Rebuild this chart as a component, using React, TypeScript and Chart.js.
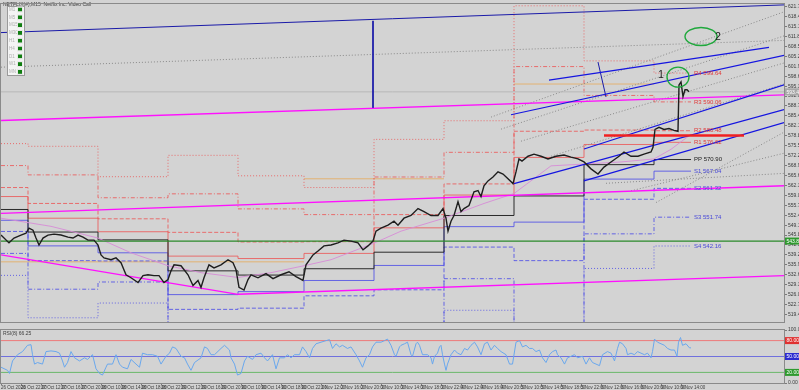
import React, { useEffect, useRef } from "react";
import { Chart, registerables } from "chart.js";
Chart.register(...registerables);

const FONT = "'Liberation Sans', 'DejaVu Sans', sans-serif";

// time axis: trading hours since start, labels every 4 hours
const timeTicks = [0, 4, 8, 12, 16, 20, 24, 28, 32, 36, 40, 44, 48, 52, 56, 60, 64, 68, 72, 76, 80, 84, 88, 92, 96, 100, 104, 108, 112, 116, 120, 124, 128, 132, 136];
const timeLabels = ["26 Oct 2020", "26 Oct 22:00", "27 Oct 12:00", "27 Oct 16:00", "27 Oct 20:00", "28 Oct 10:00", "28 Oct 14:00", "28 Oct 18:00", "28 Oct 22:00", "29 Oct 12:00", "29 Oct 16:00", "29 Oct 20:00", "30 Oct 10:00", "30 Oct 14:00", "30 Oct 18:00", "30 Oct 22:00", "2 Nov 12:00", "2 Nov 16:00", "2 Nov 20:00", "3 Nov 10:00", "3 Nov 14:00", "3 Nov 18:00", "3 Nov 22:00", "4 Nov 12:00", "4 Nov 16:00", "4 Nov 20:00", "5 Nov 10:00", "5 Nov 14:00", "5 Nov 18:00", "5 Nov 22:00", "6 Nov 12:00", "6 Nov 16:00", "6 Nov 20:00", "9 Nov 10:00", "9 Nov 14:00"];

const priceTicks = [621.7, 618.4, 615.1, 611.8, 608.5, 605.2, 601.9, 598.6, 595.3, 592.0, 588.7, 585.4, 582.1, 578.8, 575.5, 572.2, 568.9, 565.6, 562.3, 559.0, 555.7, 552.4, 549.1, 545.8, 542.5, 539.2, 535.9, 532.6, 529.3, 526.0, 522.7, 519.4];

// price path
const priceT = [0, 1.6, 2.6, 4.0, 5.0, 5.6, 6.4, 7.0, 7.6, 8.4, 9.4, 10.6, 12.0, 13.4, 14.4, 15.4, 16.4, 17.4, 18.6, 19.4, 20.0, 20.6, 22.0, 23.0, 24.0, 25.0, 26.0, 27.4, 28.4, 29.4, 30.6, 31.6, 32.6, 33.4, 34.0, 34.6, 36.0, 37.4, 38.4, 39.4, 40.0, 40.6, 41.6, 42.6, 44.0, 45.4, 46.4, 47.0, 47.6, 48.6, 49.4, 50.0, 51.4, 53.0, 54.4, 56.0, 57.6, 59.0, 60.4, 61.0, 62.4, 63.4, 64.6, 66.0, 67.4, 68.6, 70.0, 71.4, 72.4, 73.4, 74.4, 75.0, 76.0, 77.4, 78.6, 79.4, 80.6, 82.0, 83.4, 84.6, 86.0, 87.4, 88.4, 89.0, 89.4, 90.0, 90.6, 91.4, 92.0, 92.6, 93.6, 94.6, 95.4, 96.0, 96.6, 97.4, 98.4, 99.4, 100.4, 101.4, 102.4, 103.0, 103.6, 104.2, 105.4, 106.6, 108.0, 109.4, 111.0, 112.6, 114.0, 115.4, 116.6, 118.0, 119.4, 120.6, 122.0, 123.6, 124.6, 126.0, 127.4, 128.6, 130.0, 130.4, 130.8, 131.6, 132.6, 133.6, 134.6, 135.4, 135.6, 136.0, 136.4, 136.8, 137.2, 137.6];
const priceP = [545.8, 543.2, 544.8, 545.8, 546.4, 548.1, 547.4, 544.8, 542.5, 544.8, 545.8, 546.1, 545.8, 545.1, 544.8, 545.8, 545.1, 544.1, 544.1, 542.5, 539.2, 538.2, 537.6, 538.2, 536.6, 532.6, 531.6, 530.0, 532.3, 532.6, 532.3, 532.3, 530.0, 531.0, 533.9, 535.9, 535.6, 532.6, 529.0, 530.7, 528.4, 531.6, 535.9, 534.9, 535.9, 537.6, 536.6, 534.3, 528.4, 527.5, 531.0, 532.6, 531.6, 533.0, 531.3, 532.6, 533.6, 532.0, 530.7, 535.9, 539.2, 540.5, 542.2, 542.5, 543.2, 544.1, 543.8, 543.2, 540.9, 542.2, 543.8, 547.1, 548.1, 549.1, 550.4, 549.1, 551.4, 552.3, 554.6, 553.6, 552.3, 552.3, 554.6, 551.4, 547.1, 550.4, 552.3, 556.9, 553.6, 554.6, 555.6, 560.2, 560.6, 558.6, 562.2, 563.8, 565.1, 566.8, 566.1, 564.5, 562.9, 566.8, 571.1, 570.4, 572.0, 572.7, 572.0, 571.1, 572.0, 572.4, 571.7, 571.1, 570.1, 567.8, 566.1, 568.4, 570.1, 572.0, 573.4, 572.0, 572.0, 572.7, 573.4, 575.0, 580.9, 581.6, 580.9, 581.2, 580.6, 580.3, 595.7, 596.7, 591.8, 594.1, 594.1, 593.4];

// moving average
const maT = [0, 10, 19.4, 26, 33.4, 40, 47.4, 54, 60.6, 66, 74.6, 80, 88.6, 96.6, 102.6, 110, 116.6, 124, 130.6, 134, 138];
const maP = [551.4, 548.7, 544.8, 539.9, 535.6, 533.3, 531.7, 533.3, 535.6, 537.6, 543.1, 547.1, 551.4, 556.3, 559.6, 568.8, 569.4, 570.1, 571.1, 574.3, 579.3];

// daily pivots
const dayStart = [0, 5.4, 19.4, 33.4, 47.4, 60.6, 74.6, 88.6, 102.6, 116.6, 130.6];
const lastBarT = 138;
const pivPP = [554.3, 546.8, 544.2, 533.9, 532.5, 534.6, 540.1, 552.3, 558.8, 569.2, 570.90];
const pivR1 = [558.6, 551.4, 546.9, 538.8, 538.0, 539.7, 548.2, 559.1, 571.6, 575.9, 576.62];
const pivR2 = [561.6, 556.3, 551.2, 546.7, 543.5, 543.6, 552.6, 562.8, 580.3, 580.7, 580.48];
const pivR3 = [568.9, 565.8, 558.2, 559.5, 554.5, 552.6, 565.1, 573.3, 601.8, 592.2, 590.06];
const pivR4 = [576.2, 575.3, 565.2, 572.3, 565.5, 561.6, 577.6, 583.8, 622.0, 603.7, 599.64];
const pivS1 = [550.7, 542.2, 539.9, 526.0, 527.0, 530.7, 535.7, 548.6, 550.1, 564.4, 567.04];
const pivS2 = [547.0, 537.3, 537.2, 521.1, 521.5, 525.6, 527.6, 541.8, 537.3, 557.7, 561.32];
const pivS3 = [539.7, 527.8, 530.2, 508.3, 510.5, 516.6, 515.1, 531.3, 515.8, 546.2, 551.74];
const pivS4 = [532.4, 518.3, 523.2, 495.5, 499.5, 507.6, 502.6, 520.8, 494.3, 534.7, 542.16];
const pivNames = ["R4", "R3", "R2", "R1", "PP", "S1", "S2", "S3", "S4"];

// trend lines [t1, p1, t2, p2]
const magentaLines = [[0, 583.9, 156.6, 592.4], [0, 553.0, 156.6, 562.2], [0, 539.2, 47.4, 526.1], [47.4, 526.1, 156.6, 532.3]];
const darkBlueLines = [[0, 613.1, 156.6, 622.3], [74.4, 617.0, 74.4, 588.1], [119.4, 603.3, 121.0, 591.7]];
const channelLines = [[109.6, 597.3, 153.6, 608.2], [102, 585.8, 156.6, 605.5], [116.6, 574.4, 156.6, 595.7], [102.6, 562.9, 156.6, 587.5], [116.6, 563.8, 156.6, 583.2]];
const dottedLines = [[0, 601.6, 156.6, 610.5], [98, 585.0, 156.6, 620.0], [100, 581.0, 156.6, 612.0], [104, 577.0, 156.6, 603.0], [110, 572.0, 156.6, 596.0], [121, 563.0, 156.6, 566.3], [126, 560.5, 156.6, 573.0], [131, 556.6, 156.6, 580.0]];
const redThick = [120.6, 578.9, 148.6, 578.9];
const orangeLines = [[0, 536.9, 60.6, 536.9], [60.6, 564.5, 88.6, 564.5], [102.6, 596.0, 130.6, 596.0]];
const greenLevel = 543.8;
const bidLevel = 593.4;

// RSI
const rsiT = [0, 1.3, 1.7, 2.3, 3.3, 4.3, 5.3, 6.0, 6.3, 6.7, 7.3, 8.3, 9.0, 10.0, 11.0, 11.7, 12.3, 12.7, 13.3, 14.0, 14.7, 15.7, 16.7, 17.3, 18.3, 19.0, 19.7, 20.3, 21.0, 21.3, 22.3, 23.0, 23.7, 24.3, 25.3, 26.0, 27.0, 27.7, 28.3, 29.3, 30.3, 31.3, 32.0, 33.0, 33.7, 34.3, 35.0, 36.0, 36.7, 37.3, 38.0, 38.7, 40.0, 40.7, 41.3, 42.0, 42.7, 44.0, 44.7, 45.7, 46.0, 46.7, 47.3, 48.0, 48.7, 49.3, 50.3, 51.0, 52.0, 52.7, 53.3, 54.3, 55.0, 55.7, 56.7, 57.3, 58.0, 58.7, 59.7, 60.3, 61.0, 61.7, 62.3, 63.0, 64.0, 65.0, 65.7, 66.3, 67.0, 67.7, 68.3, 69.3, 70.0, 71.0, 71.7, 72.3, 73.0, 73.7, 74.3, 75.0, 76.0, 76.7, 77.3, 78.0, 78.7, 79.0, 79.7, 80.0, 80.7, 81.3, 82.0, 82.3, 83.0, 83.3, 83.7, 84.3, 85.3, 86.0, 86.3, 86.7, 87.3, 87.7, 88.0, 88.3, 88.7, 89.0, 89.3, 90.0, 90.7, 91.3, 92.0, 92.7, 93.3, 94.0, 94.7, 95.3, 96.0, 96.7, 97.3, 98.0, 98.7, 99.3, 100.0, 101.0, 101.7, 102.3, 103.0, 103.7, 104.3, 105.0, 105.7, 106.3, 107.0, 107.7, 108.3, 109.0, 109.7, 110.3, 111.0, 111.3, 112.0, 112.7, 113.3, 114.0, 114.7, 115.3, 116.3, 117.0, 117.7, 118.3, 119.0, 119.7, 120.3, 121.3, 122.0, 122.7, 123.3, 123.7, 124.3, 125.0, 125.3, 126.0, 126.7, 127.3, 128.0, 128.7, 129.3, 130.0, 130.3, 130.7, 131.3, 132.0, 132.7, 133.3, 134.0, 134.7, 135.2, 135.5, 135.9, 136.3, 137.0, 137.7, 138.0];
const rsiV = [29.8, 23.9, 18.0, 41.6, 53.4, 59.3, 71.1, 72.3, 53.4, 35.7, 38.6, 35.7, 59.3, 60.5, 59.3, 56.3, 41.6, 29.8, 38.6, 59.3, 47.5, 41.6, 47.5, 44.5, 53.4, 26.8, 18.0, 15.0, 29.8, 35.7, 35.7, 53.4, 35.7, 29.8, 26.8, 44.5, 35.7, 29.8, 56.3, 53.4, 53.4, 50.4, 35.7, 50.4, 56.3, 68.1, 65.2, 50.4, 47.5, 35.7, 23.9, 38.6, 47.5, 68.1, 65.2, 53.4, 53.4, 65.2, 71.1, 62.2, 47.5, 35.7, 15.0, 18.0, 41.6, 50.4, 44.5, 53.4, 56.3, 47.5, 41.6, 53.4, 26.8, 47.5, 47.5, 53.4, 47.5, 53.4, 53.4, 68.1, 59.3, 47.5, 65.2, 74.0, 77.0, 79.9, 81.7, 65.2, 74.0, 68.1, 71.1, 65.2, 68.1, 53.4, 41.6, 29.8, 47.5, 53.4, 68.1, 77.0, 77.0, 79.9, 82.9, 71.1, 53.4, 50.4, 68.1, 71.1, 74.0, 77.0, 53.4, 50.4, 74.0, 77.0, 71.1, 53.4, 53.4, 47.5, 35.7, 50.4, 56.3, 68.1, 71.1, 53.4, 35.7, 23.9, 35.7, 53.4, 62.2, 56.3, 53.4, 65.2, 62.2, 71.1, 77.0, 68.1, 53.4, 74.0, 77.0, 62.2, 71.1, 65.2, 59.3, 53.4, 35.7, 35.7, 77.0, 79.9, 68.1, 71.1, 65.2, 65.2, 59.3, 62.2, 47.5, 38.6, 53.4, 59.3, 62.2, 53.4, 47.5, 35.7, 47.5, 50.4, 53.4, 47.5, 50.4, 35.7, 47.5, 38.6, 35.7, 32.7, 53.4, 59.3, 56.3, 41.6, 65.2, 77.0, 74.0, 65.2, 53.4, 56.3, 53.4, 59.3, 56.3, 53.4, 56.3, 47.5, 59.3, 82.9, 77.0, 74.0, 71.1, 65.2, 62.2, 62.2, 50.4, 77.0, 85.8, 71.1, 74.0, 66.3, 66.3];
const rsiLevels = [80, 50, 20];
const rsiTicks = [100, 0];

const BG = "#d3d3d3";
const RED = "rgba(235,90,90,0.85)";
const BLUE = "rgba(80,80,230,0.85)";

const pts = (ts: number[], vs: number[]) => ts.map((t, i) => ({ x: t, y: vs[i] }));
const seg = (s: number[]) => [{ x: s[0], y: s[1] }, { x: s[2], y: s[3] }];
const steps = (lv: number[]) => lv.map((v, i) => ({ x: dayStart[i], y: v })).concat([{ x: lastBarT, y: lv[lv.length - 1] }]);

const bgPlugin = {
  id: "bg",
  beforeDraw(c: any) {
    const ctx = c.ctx;
    ctx.save();
    ctx.fillStyle = BG;
    ctx.fillRect(0, 0, c.width, c.height);
    ctx.restore();
  },
  afterDraw(c: any) {
    const { ctx, chartArea: a } = c;
    ctx.save();
    ctx.strokeStyle = "#8a8a8a";
    ctx.lineWidth = 1;
    ctx.strokeRect(a.left - 0.5, a.top - 0.5, a.right - a.left + 1, a.bottom - a.top + 1);
    ctx.restore();
  },
};

const boxLabel = (ctx: any, x: number, y: number, text: string, bg: string, fg: string) => {
  ctx.font = `5px ${FONT}`;
  const w = ctx.measureText(text).width + 3;
  ctx.fillStyle = bg;
  ctx.fillRect(x, y - 3.5, w, 7);
  ctx.fillStyle = fg;
  ctx.textAlign = "left";
  ctx.textBaseline = "middle";
  ctx.fillText(text, x + 1.5, y + 0.3);
};

const mainAnnot = {
  id: "mainAnnot",
  afterDatasetsDraw(c: any) {
    const { ctx, scales } = c;
    const X = (t: number) => scales.x.getPixelForValue(t);
    const Y = (p: number) => scales.y.getPixelForValue(p);
    ctx.save();
    // pivot labels of the last day
    const vals = [pivR4, pivR3, pivR2, pivR1, pivPP, pivS1, pivS2, pivS3, pivS4].map((a) => a[a.length - 1]);
    ctx.font = `6px ${FONT}`;
    ctx.textBaseline = "middle";
    ctx.textAlign = "left";
    pivNames.forEach((n, i) => {
      ctx.fillStyle = n[0] === "R" ? "#e03a3a" : n[0] === "S" ? "#4848d8" : "#202020";
      ctx.fillText(`${n} ${vals[i].toFixed(2)}`, X(lastBarT) + 3, Y(vals[i]));
    });
    // ellipses
    ctx.strokeStyle = "#1fa83c";
    ctx.lineWidth = 1.4;
    ctx.beginPath();
    ctx.ellipse(X(135.4), Y(598.3), 11, 10, 0, 0, Math.PI * 2);
    ctx.stroke();
    ctx.beginPath();
    ctx.ellipse(X(140.0), Y(611.8), 16, 9, 0, 0, Math.PI * 2);
    ctx.stroke();
    ctx.fillStyle = "#202020";
    ctx.font = `10px ${FONT}`;
    ctx.textAlign = "center";
    ctx.fillText("1", X(132), Y(599.0));
    ctx.fillText("2", X(143.4), Y(611.5));
    // right axis boxes
    const ax = c.chartArea.right + 1;
    boxLabel(ctx, ax, Y(bidLevel), bidLevel.toFixed(2), "#a8a8a8", "#ffffff");
    boxLabel(ctx, ax, Y(greenLevel), greenLevel.toFixed(2), "#2f9a2f", "#ffffff");
    // title
    ctx.font = `5px ${FONT}`;
    ctx.fillStyle = "#404040";
    ctx.textAlign = "left";
    ctx.textBaseline = "top";
    ctx.fillText("NETFLIX(#),M15  Netflix Inc. Video Call", 3, 2);
    // timeframe box
    ctx.fillStyle = "#f4f4f4";
    ctx.fillRect(7, 6, 17, 69);
    ctx.strokeStyle = "#9a9a9a";
    ctx.lineWidth = 1;
    ctx.strokeRect(7.5, 6.5, 17, 69);
    const tf = ["M1", "M5", "M15", "M30", "H1", "H4", "D1", "W1", "MN"];
    ctx.textBaseline = "middle";
    tf.forEach((s, i) => {
      const yy = 9.5 + i * 7.8;
      ctx.fillStyle = "#b0b0b0";
      ctx.font = `4.5px ${FONT}`;
      ctx.fillText(s, 9, yy);
      ctx.fillStyle = "#0f7d0f";
      ctx.fillRect(18, yy - 2, 4, 4);
      ctx.strokeStyle = "#e8e8e8";
      ctx.strokeRect(17.5, yy - 2.5, 5, 5);
    });
    ctx.restore();
  },
};

const rsiAnnot = {
  id: "rsiAnnot",
  afterDatasetsDraw(c: any) {
    const { ctx, scales } = c;
    const Y = (v: number) => scales.y.getPixelForValue(v);
    ctx.save();
    const ax = c.chartArea.right + 1;
    const cols = ["#e03030", "#2c2cd0", "#2f9a2f"];
    rsiLevels.forEach((l, i) => boxLabel(ctx, ax, Y(l), l.toFixed(2), cols[i], "#ffffff"));
    ctx.font = `5px ${FONT}`;
    ctx.fillStyle = "#404040";
    ctx.textAlign = "left";
    ctx.textBaseline = "top";
    ctx.fillText("RSI(8) 66.25", 3, c.chartArea.top + 1);
    ctx.restore();
  },
};

const line = (data: any[], color: string, width = 1, dash: number[] = [], extra: any = {}) => ({
  data,
  borderColor: color,
  borderWidth: width,
  borderDash: dash,
  pointRadius: 0,
  fill: false,
  tension: 0,
  ...extra,
});

export default function App() {
  const mainRef = useRef<HTMLCanvasElement>(null);
  const rsiRef = useRef<HTMLCanvasElement>(null);

  useEffect(() => {
    const yAxisCommon = {
      position: "right" as const,
      afterFit: (s: any) => {
        s.width = 15;
      },
      grid: { drawOnChartArea: false, tickLength: 3, color: "#7a7a7a" },
      border: { color: "#7a7a7a" },
      ticks: { font: { size: 5, family: FONT }, color: "#3a3a3a", padding: 1, autoSkip: false, callback: (v: any) => Number(v).toFixed(2) },
    };

    const datasets: any[] = [
      line(pts(priceT, priceP), "#1e1e1e", 1.4),
      line(seg(redThick), "#f02020", 2.5),
      ...channelLines.map((s) => line(seg(s), "#1515e0", 1.2)),
      ...darkBlueLines.map((s) => line(seg(s), "#1a1aa8", 1)),
      ...magentaLines.map((s) => line(seg(s), "#ff10ff", 1.4)),
      line([{ x: 0, y: greenLevel }, { x: 156.6, y: greenLevel }], "#2a8a2a", 1.2),
      line([{ x: 0, y: bidLevel }, { x: 156.6, y: bidLevel }], "#b8b8b8", 1),
      ...dottedLines.map((s) => line(seg(s), "#8a8a8a", 1, [1, 2])),
      line(pts(maT, maP), "rgba(215,140,215,0.9)", 1),
      line(steps(pivPP), "#2a2a2a", 1, [], { stepped: true }),
      line(steps(pivR1), RED, 1, [], { stepped: true }),
      line(steps(pivR2), RED, 1, [4, 2], { stepped: true }),
      line(steps(pivR3), RED, 1, [4, 2, 1, 2], { stepped: true }),
      line(steps(pivR4), RED, 1, [1, 2], { stepped: true }),
      line(steps(pivS1), BLUE, 1, [], { stepped: true }),
      line(steps(pivS2), BLUE, 1, [4, 2], { stepped: true }),
      line(steps(pivS3), BLUE, 1, [4, 2, 1, 2], { stepped: true }),
      line(steps(pivS4), BLUE, 1, [1, 2], { stepped: true }),
      ...orangeLines.map((s) => line(seg(s), "rgba(230,170,90,0.8)", 1)),
    ];

    const main = new Chart(mainRef.current as HTMLCanvasElement, {
      type: "line",
      data: { datasets },
      options: {
        animation: false,
        responsive: false,
        maintainAspectRatio: false,
        layout: { padding: { left: 1, top: 3, bottom: 1, right: 0 } },
        plugins: { legend: { display: false }, tooltip: { enabled: false } },
        scales: {
          x: { type: "linear", min: 0, max: 156.6, display: false },
          y: {
            ...yAxisCommon,
            type: "linear",
            min: 516.9,
            max: 622.6,
            afterBuildTicks: (s: any) => {
              s.ticks = priceTicks.map((v) => ({ value: v }));
            },
          } as any,
        },
      },
      plugins: [bgPlugin, mainAnnot],
    });

    const rsi = new Chart(rsiRef.current as HTMLCanvasElement, {
      type: "line",
      data: {
        datasets: [
          line(pts(rsiT, rsiV), "#6aa8ee", 1),
          line([{ x: 0, y: rsiLevels[0] }, { x: 156.6, y: rsiLevels[0] }], "#ee7a7a", 1),
          line([{ x: 0, y: rsiLevels[1] }, { x: 156.6, y: rsiLevels[1] }], "#7070dd", 1),
          line([{ x: 0, y: rsiLevels[2] }, { x: 156.6, y: rsiLevels[2] }], "#6ab86a", 1),
        ],
      },
      options: {
        animation: false,
        responsive: false,
        maintainAspectRatio: false,
        layout: { padding: { left: 1, top: 1, bottom: 0, right: 0 } },
        plugins: { legend: { display: false }, tooltip: { enabled: false } },
        scales: {
          x: {
            type: "linear",
            min: 0,
            max: 156.6,
            afterBuildTicks: (s: any) => {
              s.ticks = timeTicks.map((v) => ({ value: v }));
            },
            afterFit: (s: any) => {
              s.height = 7;
            },
            grid: { drawOnChartArea: false, tickLength: 2, color: "#7a7a7a" },
            border: { color: "#7a7a7a" },
            ticks: {
              font: { size: 4.5, family: FONT },
              color: "#3a3a3a",
              padding: 0,
              align: "start",
              maxRotation: 0,
              autoSkip: false,
              callback: (v: any) => timeLabels[timeTicks.indexOf(Number(v))] ?? "",
            },
          } as any,
          y: {
            ...yAxisCommon,
            type: "linear",
            min: 0,
            max: 100,
            afterBuildTicks: (s: any) => {
              s.ticks = rsiTicks.map((v) => ({ value: v }));
            },
          } as any,
        },
      },
      plugins: [bgPlugin, rsiAnnot],
    });

    return () => {
      main.destroy();
      rsi.destroy();
    };
  }, []);

  return (
    <div style={{ position: "absolute", left: 0, top: 0, width: 799, height: 390, background: BG }}>
      <canvas ref={mainRef} width={799} height={326} style={{ display: "block", width: 799, height: 326 }} />
      <canvas ref={rsiRef} width={799} height={64} style={{ display: "block", width: 799, height: 64 }} />
    </div>
  );
}
